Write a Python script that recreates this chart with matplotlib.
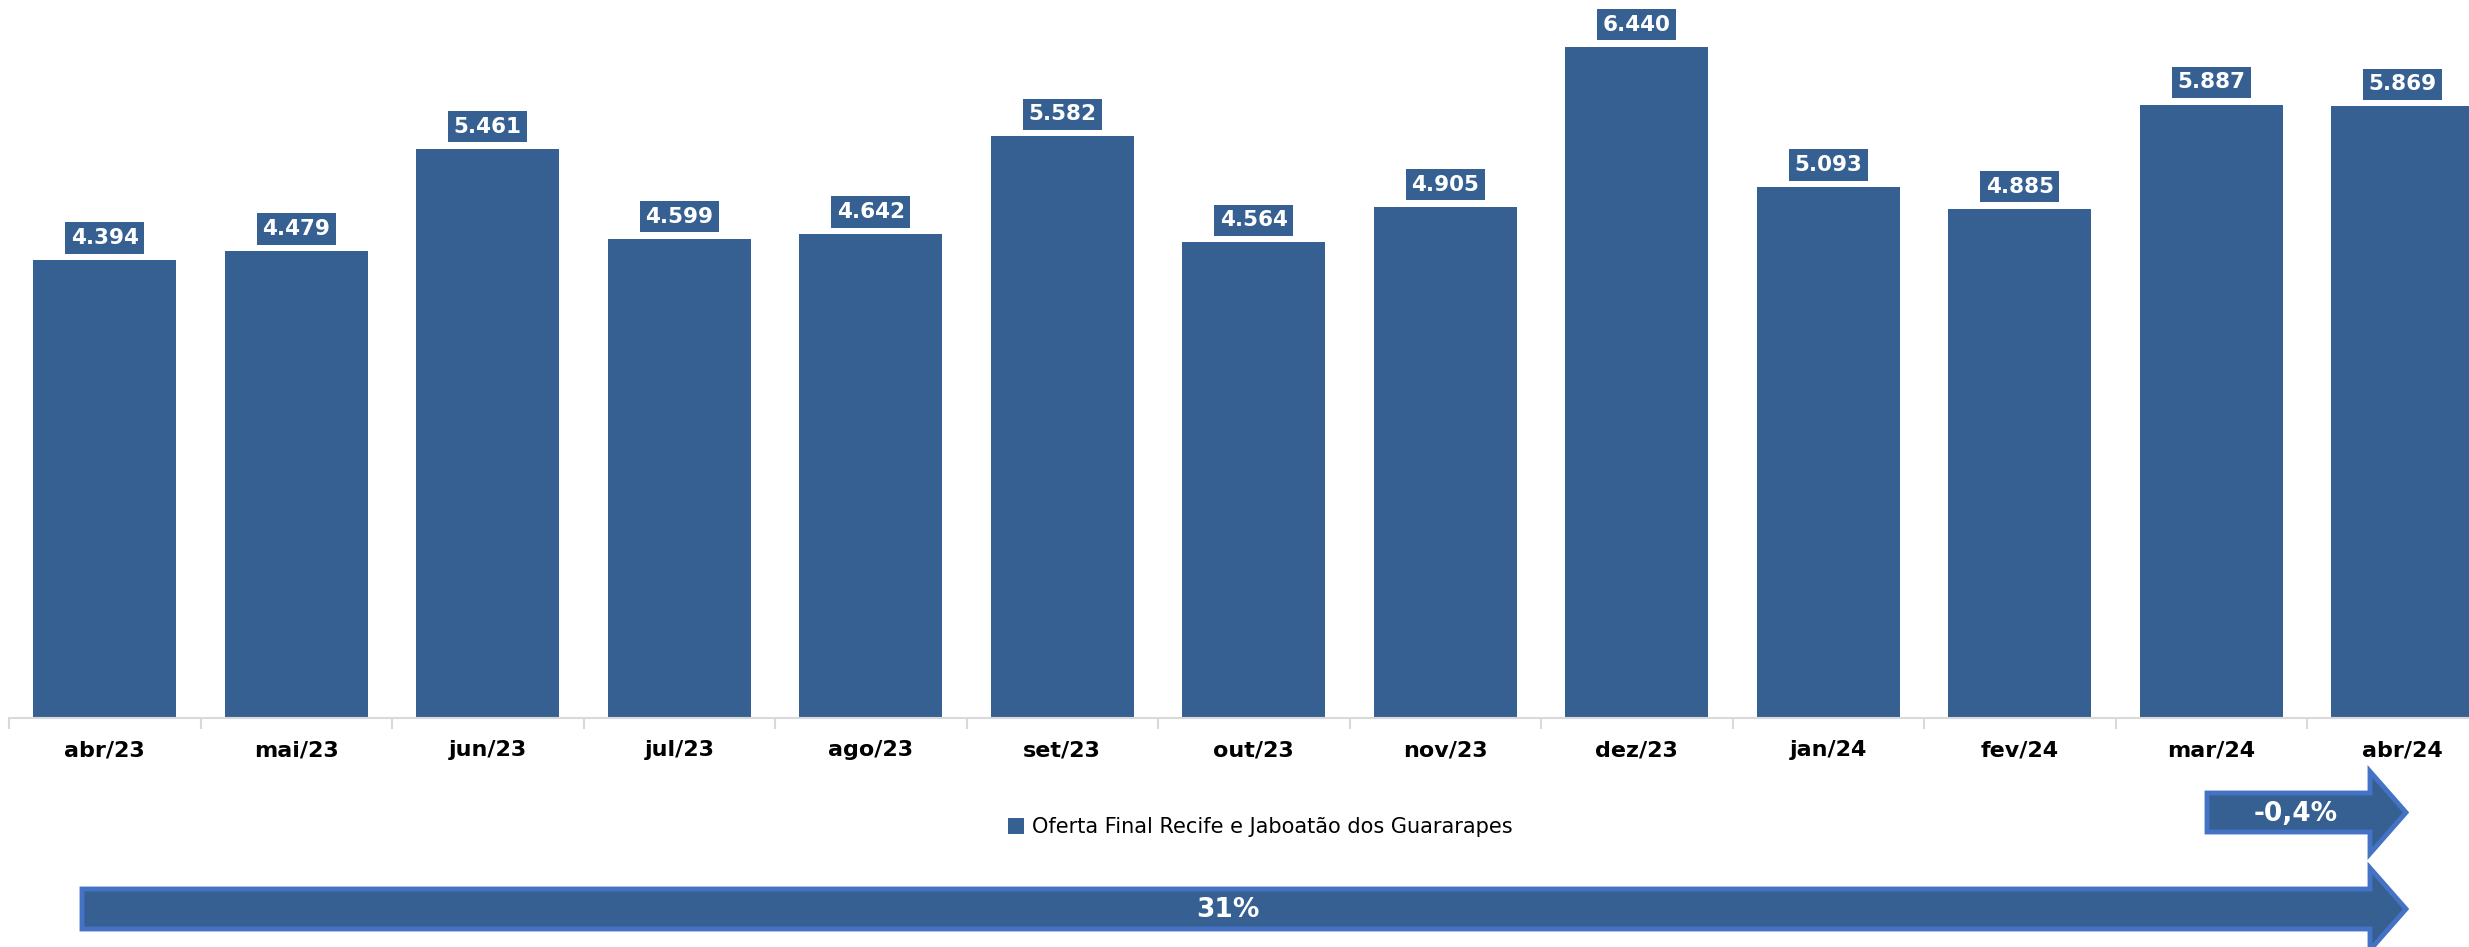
import matplotlib
matplotlib.use("Agg")
import matplotlib.pyplot as plt
from matplotlib.patches import Polygon, Patch

categories = ["abr/23", "mai/23", "jun/23", "jul/23", "ago/23", "set/23", "out/23",
              "nov/23", "dez/23", "jan/24", "fev/24", "mar/24", "abr/24"]
values = [4394, 4479, 5461, 4599, 4642, 5582, 4564, 4905, 6440, 5093, 4885, 5887, 5869]
series_name = "Oferta Final Recife e Jaboatão dos Guararapes"
change_month = "-0,4%"
change_year = "31%"

BAR = "#366092"
EDGE = "#4472C4"

W, H = 2469, 947
fig = plt.figure(figsize=(W / 100, H / 100), dpi=100)
left = 9 / W
width = (13 * 191.5) / W
bottom = (H - 718) / H
ax = fig.add_axes([left, bottom, width, 718 / H])

x = list(range(len(categories)))
ax.bar(x, values, width=0.747, color=BAR, zorder=2)
ax.set_xlim(-0.5, len(categories) - 0.5)
ax.set_ylim(0, 718 / 0.1042)

def fmt(v):
    return f"{v:,}".replace(",", ".")

for xi, v in zip(x, values):
    ax.annotate(fmt(v), (xi, v), xytext=(0, 16), textcoords="offset points",
                ha="center", va="center", color="white", fontsize=15.5, fontweight="bold",
                bbox=dict(boxstyle="square,pad=0.26", fc=BAR, ec="none"), zorder=3)

for s in ["top", "right", "left"]:
    ax.spines[s].set_visible(False)
ax.spines["bottom"].set_color("#d9d9d9")
ax.spines["bottom"].set_linewidth(1.5)
ax.set_yticks([])
ax.set_xticks(x)
ax.set_xticklabels(categories, fontsize=16, fontweight="bold")
ax.tick_params(axis="x", which="major", length=0, pad=16)
ax.set_xticks([i - 0.5 for i in range(len(categories) + 1)], minor=True)
ax.tick_params(axis="x", which="minor", length=8, width=1.5, color="#d9d9d9")

fig.legend(handles=[Patch(facecolor=BAR, edgecolor="none", label=series_name)],
           loc="center", bbox_to_anchor=(1260 / W, 1 - 827 / H), frameon=False,
           fontsize=15, handlelength=0.8, handleheight=0.8, handletextpad=0.35)

def arrow(x0, x1, xt, yc, body_h, head_h, text, tx):
    pts = [(x0, yc - body_h / 2), (x1, yc - body_h / 2), (x1, yc - head_h / 2),
           (xt, yc), (x1, yc + head_h / 2), (x1, yc + body_h / 2), (x0, yc + body_h / 2)]
    pts = [(px / W, 1 - py / H) for px, py in pts]
    fig.add_artist(Polygon(pts, closed=True, transform=fig.transFigure,
                           fc=BAR, ec=EDGE, lw=3.5, joinstyle="miter"))
    fig.text(tx / W, 1 - (yc + 1) / H, text, ha="center", va="center", color="white",
             fontsize=19, fontweight="bold")

arrow(2207, 2370, 2406, 812.5, 39, 82, change_month, 2296)
arrow(82, 2370, 2406, 909, 40, 82, change_year, 1228)

fig.savefig("out.png", dpi=100)
